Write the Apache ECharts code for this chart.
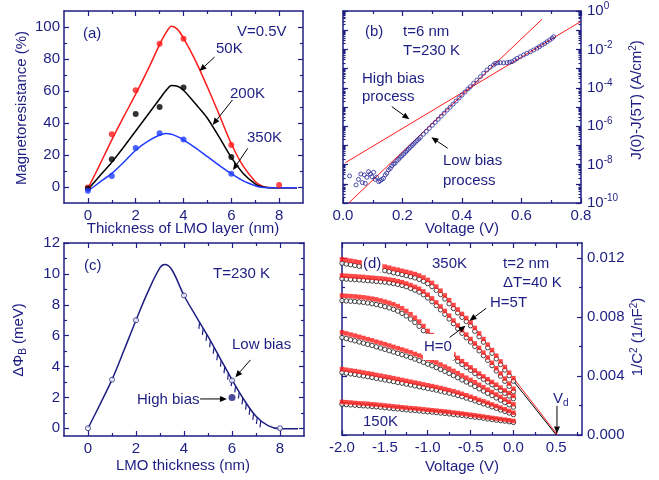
<!DOCTYPE html>
<html>
<head>
<meta charset="utf-8">
<script src="https://cdn.jsdelivr.net/npm/echarts@6/dist/echarts.min.js"></script>
<style>html,body{margin:0;padding:0;background:#fff}#c{width:659px;height:480px}</style>
</head>
<body>
<div id="c"></div>
<script>
// ---------- Panel (a): magnetoresistance vs LMO thickness ----------
const mrThickness = [0, 1, 2, 3, 4, 6, 8];
const mr50K  = [-0.3, 33, 60.5, 89.5, 92.7, 26.3, 1.2];
const mr200K = [-1, 17.4, 45.6, 50, 62.2, 18.7];
const mr350K = [-2.3, 6.8, 24.3, 33.6, 29.7, 8.3];
const fitThickness = [0, 0.5, 1, 1.5, 2, 2.5, 3, 3.25, 3.5, 3.75, 4, 4.5, 5, 5.5, 6, 6.5, 7, 7.25, 7.5, 8, 8.75];
const fit50K  = [-1, 14, 29.5, 44, 58, 73, 89, 96, 100.5, 98.5, 93, 79, 62.5, 45, 27, 13, 3.5, 0.8, -0.3, -0.5, -0.5];
const fit200K = [-1.5, 7, 15.5, 25, 35, 45, 55, 60, 63.5, 63, 60.5, 52, 43, 31, 18.5, 8.5, 2, 0.3, -0.3, -0.5, -0.5];
const fit350K = [-2.5, 3, 8.5, 15.5, 23, 28.5, 32.5, 33.5, 33, 31.5, 29.5, 24.5, 19, 13.5, 8.3, 3.8, 0.8, -0.2, -0.5, -0.5, -0.5];

// ---------- Panel (b): J(0)-J(5T) vs voltage (log10 values) ----------
const biasV = [0.022,0.044,0.052,0.060,0.065,0.072,0.075,0.080,0.086,0.092,0.097,0.103,0.108,0.113,0.120,0.125,0.130,0.136,0.142,0.147,0.153,0.159,0.164,0.170,0.175,0.181,0.187,0.193,0.198,0.204,0.210,0.215,0.220,0.226,0.232,0.237,0.243,0.249,0.255,0.260,0.270,0.280,0.290,0.300,0.310,0.320,0.330,0.340,0.350,0.360,0.370,0.380,0.390,0.400,0.410,0.420,0.428,0.439,0.450,0.462,0.473,0.484,0.495,0.506,0.512,0.520,0.529,0.540,0.551,0.560,0.568,0.577,0.585,0.596,0.607,0.618,0.630,0.641,0.652,0.660,0.669,0.678,0.686,0.695,0.703,0.708];
const log10DeltaJ = [-8.59,-9.06,-8.77,-8.49,-8.94,-8.54,-8.98,-8.66,-8.37,-8.49,-8.63,-8.40,-8.77,-8.66,-8.89,-8.84,-8.77,-8.72,-8.54,-8.45,-8.28,-8.20,-8.07,-7.98,-7.92,-7.80,-7.72,-7.62,-7.54,-7.45,-7.36,-7.27,-7.19,-7.10,-7.01,-6.93,-6.84,-6.75,-6.66,-6.58,-6.42,-6.27,-6.11,-5.95,-5.80,-5.64,-5.48,-5.32,-5.16,-5.01,-4.85,-4.69,-4.53,-4.38,-4.22,-4.06,-3.94,-3.77,-3.60,-3.42,-3.24,-3.07,-2.93,-2.81,-2.73,-2.70,-2.69,-2.70,-2.69,-2.67,-2.64,-2.56,-2.47,-2.38,-2.29,-2.21,-2.12,-2.03,-1.94,-1.86,-1.77,-1.69,-1.60,-1.51,-1.42,-1.34];
const lowBiasFit  = [[0.019, -10], [0.669, -0.43]];
const highBiasFit = [[0.008, -7.9], [0.798, -0.56]];

// ---------- Panel (c): barrier change vs LMO thickness ----------
const lmoThickness = [0, 1, 2, 4, 6, 8];
const dPhiLowBias  = [0, 3.15, 7.0, 8.6, 3.1, 0];
const dPhiHighBias = [[6, 2.0]];
const fitCX = [0, 0.5, 1, 1.5, 2, 2.5, 3, 3.2, 3.5, 4, 4.5, 5, 5.5, 6, 6.5, 7, 7.5, 8, 8.75];
const fitCY = [0, 1.55, 3.15, 5.05, 7.0, 8.85, 10.4, 10.6, 10.25, 8.6, 7.25, 5.95, 4.55, 3.15, 1.85, 0.78, 0.17, -0.03, -0.03];
const hatchX = [4.65, 4.8, 4.95, 5.1, 5.25, 5.4, 5.55, 5.7, 5.85, 6.0, 6.15, 6.3, 6.45, 6.6, 6.75, 6.9, 7.05, 7.2];
const hatchY = [6.86, 6.47, 6.08, 5.67, 5.25, 4.83, 4.41, 3.99, 3.57, 3.15, 2.75, 2.35, 1.97, 1.63, 1.3, 0.97, 0.7, 0.48];

// ---------- Panel (d): 1/C^2 (units of 1e-3 nF^-2) vs voltage ----------
const dVolt = [-2,-1.95,-1.9,-1.85,-1.8,-1.75,-1.7,-1.65,-1.6,-1.55,-1.5,-1.45,-1.4,-1.35,-1.3,-1.25,-1.2,-1.15,-1.1,-1.05,-1,-0.95,-0.9,-0.85,-0.8,-0.75,-0.7,-0.65,-0.6,-0.55,-0.5,-0.45,-0.4,-0.35,-0.3,-0.25,-0.2,-0.15,-0.1,-0.05,0];
const c1H5T = [11.90,11.85,11.80,11.75,11.70,11.65,11.60,11.55,11.50,11.45,11.40,11.33,11.25,11.19,11.12,11.05,10.98,10.90,10.80,10.67,10.50,10.30,10.05,9.77,9.45,9.13,8.80,8.50,8.20,7.92,7.62,7.25,6.88,6.50,6.12,5.75,5.37,4.98,4.60,4.22,3.85];
const c1H0  = [11.63,11.58,11.53,11.48,11.43,11.38,11.33,11.28,11.23,11.18,11.13,11.06,10.99,10.93,10.86,10.79,10.72,10.64,10.54,10.41,10.25,10.05,9.80,9.52,9.21,8.89,8.57,8.27,7.97,7.69,7.40,7.03,6.66,6.29,5.91,5.54,5.16,4.78,4.40,4.02,3.65];
const c2H5T = [10.80,10.78,10.76,10.74,10.72,10.70,10.67,10.65,10.62,10.60,10.57,10.53,10.48,10.42,10.35,10.26,10.15,10.03,9.90,9.72,9.50,9.25,8.98,8.70,8.40,8.08,7.75,7.42,7.10,6.80,6.50,6.20,5.90,5.58,5.25,4.89,4.52,4.17,3.82,3.48,3.13];
const c2H0  = [10.58,10.56,10.54,10.52,10.50,10.48,10.45,10.43,10.40,10.38,10.35,10.31,10.26,10.20,10.13,10.04,9.93,9.81,9.68,9.50,9.28,9.03,8.76,8.48,8.18,7.86,7.54,7.21,6.89,6.59,6.30,6.00,5.70,5.38,5.06,4.70,4.34,3.99,3.64,3.30,2.95];
const c3H5T = [9.44,9.42,9.40,9.38,9.35,9.32,9.28,9.23,9.18,9.11,9.03,8.95,8.85,8.73,8.58,8.40,8.18,7.94,7.68,7.38,7.05,6.77,6.50,6.23,5.97,5.70,5.45,5.22,5.00,4.79,4.58,4.37,4.16,3.97,3.78,3.59,3.40,3.21,3.02,2.84,2.65];
const c3H0  = [9.10,9.08,9.06,9.04,9.01,8.98,8.94,8.89,8.84,8.77,8.69,8.61,8.51,8.39,8.24,8.06,7.85,7.62,7.36,7.07,6.76,6.49,6.23,5.97,5.72,5.46,5.22,4.99,4.78,4.58,4.38,4.17,3.97,3.78,3.59,3.40,3.21,3.02,2.83,2.65,2.46];
const c4H5T = [6.95,6.88,6.80,6.73,6.65,6.57,6.49,6.41,6.32,6.24,6.15,6.06,5.97,5.88,5.79,5.70,5.60,5.49,5.38,5.27,5.15,5.03,4.91,4.77,4.63,4.49,4.34,4.19,4.03,3.88,3.73,3.57,3.40,3.24,3.07,2.91,2.74,2.58,2.41,2.25,2.08];
const c4H0  = [6.60,6.53,6.45,6.38,6.30,6.22,6.14,6.06,5.97,5.89,5.80,5.71,5.62,5.53,5.44,5.35,5.25,5.14,5.03,4.92,4.80,4.69,4.57,4.44,4.31,4.17,4.03,3.88,3.73,3.59,3.44,3.29,3.13,2.98,2.82,2.67,2.51,2.36,2.20,2.05,1.89];
const c5H5T = [4.46,4.42,4.37,4.33,4.28,4.23,4.18,4.13,4.07,4.02,3.96,3.91,3.85,3.79,3.73,3.67,3.61,3.55,3.49,3.43,3.37,3.31,3.25,3.18,3.11,3.04,2.96,2.88,2.79,2.69,2.59,2.49,2.38,2.28,2.18,2.07,1.96,1.85,1.74,1.63,1.51];
const c5H0  = [4.23,4.19,4.14,4.10,4.05,4.00,3.95,3.90,3.84,3.79,3.73,3.68,3.62,3.56,3.51,3.45,3.39,3.33,3.27,3.21,3.15,3.10,3.04,2.97,2.90,2.84,2.76,2.68,2.60,2.50,2.41,2.31,2.21,2.11,2.02,1.91,1.81,1.70,1.60,1.49,1.38];
const c6H5T = [2.24,2.22,2.20,2.17,2.15,2.13,2.11,2.08,2.06,2.03,2.00,1.97,1.94,1.91,1.88,1.85,1.82,1.80,1.77,1.74,1.71,1.68,1.65,1.62,1.59,1.56,1.52,1.49,1.45,1.41,1.37,1.33,1.29,1.25,1.20,1.16,1.12,1.08,1.04,1.00,0.95];
const c6H0  = [2.08,2.06,2.04,2.02,2.00,1.98,1.96,1.93,1.91,1.88,1.85,1.82,1.79,1.77,1.74,1.71,1.68,1.66,1.63,1.60,1.57,1.55,1.52,1.49,1.46,1.43,1.39,1.36,1.33,1.29,1.25,1.21,1.18,1.14,1.09,1.05,1.01,0.97,0.94,0.90,0.85];
const extrapH5T = [[0, 3.85], [0.515, 0]];
const extrapH0  = [[0, 3.65], [0.5, 0]];

// ---------- Tick values ----------
const ticksA = {xMaj:[0,2,4,6,8], xMin:[1,3,5,7], yMaj:[0,20,40,60,80,100], yMin:[10,30,50,70,90]};
const ticksB = {xMaj:[0,0.2,0.4,0.6,0.8], xMin:[0.1,0.3,0.5,0.7], yMaj:[-10,-9,-8,-7,-6,-5,-4,-3,-2,-1,0], yLab:[0,-2,-4,-6,-8,-10]};
const ticksC = {xMaj:[0,2,4,6,8], xMin:[1,3,5,7], yMaj:[0,2,4,6,8,10,12], yMin:[1,3,5,7,9,11]};
const ticksD = {xMaj:[-2,-1.5,-1,-0.5,0,0.5], xMin:[-1.75,-1.25,-0.75,-0.25,0.25,0.75], yMaj:[0,4,8,12], yMin:[2,6,10]};
const logMinor = [];
for (let n = -10; n < 0; n++) for (let k = 2; k <= 9; k++) logMinor.push(n + Math.log10(k));

// ---------- Styling ----------
const NAVY = '#1e1e82';
const FONT = '"Liberation Sans", Arial, sans-serif';
const zip = (xs, ys) => xs.map((x, i) => [x, ys[i]]);

function ax(grid, pos, min, max, ticks, len, line, labels, fmt, margin, rich) {
  return {
    type: 'value', gridIndex: grid, position: pos, min: min, max: max,
    axisLine: {show: line, onZero: false, lineStyle: {color: NAVY, width: 1.5}},
    axisTick: {show: true, inside: true, length: len, customValues: ticks, lineStyle: {color: NAVY, width: 1.2}},
    minorTick: {show: false},
    splitLine: {show: false},
    axisLabel: labels ? {show: true, customValues: labels, formatter: fmt, margin: margin,
      color: NAVY, fontSize: 15, fontFamily: FONT, rich: rich} : {show: false}
  };
}
const intFmt = v => String(Math.round(v));
const f1 = v => v.toFixed(1);
const f3 = v => (v / 1000).toFixed(3);
const logFmt = v => '{m|10}{e|' + Math.round(v) + '}';
const logRich = {m: {fontSize: 15, color: NAVY, fontFamily: FONT}, e: {fontSize: 10, color: NAVY, fontFamily: FONT, padding: [0, 0, 9, 0]}};

const grids = [
  {left: 64, top: 11, width: 239, height: 192},
  {left: 343, top: 11, width: 238, height: 192},
  {left: 64, top: 243, width: 240, height: 193},
  {left: 342, top: 243, width: 240, height: 192}
];

const xAxes = [
  ax(0,'bottom',-1,9,ticksA.xMaj,5,true,ticksA.xMaj,intFmt,5), ax(0,'bottom',-1,9,ticksA.xMin,3,false),
  ax(0,'top',-1,9,ticksA.xMaj,5,true), ax(0,'top',-1,9,ticksA.xMin,3,false),
  ax(1,'bottom',0,0.8,ticksB.xMaj,5,true,ticksB.xMaj,f1,5), ax(1,'bottom',0,0.8,ticksB.xMin,3,false),
  ax(1,'top',0,0.8,ticksB.xMaj,5,true), ax(1,'top',0,0.8,ticksB.xMin,3,false),
  ax(2,'bottom',-1,9,ticksC.xMaj,5,true,ticksC.xMaj,intFmt,5), ax(2,'bottom',-1,9,ticksC.xMin,3,false),
  ax(2,'top',-1,9,ticksC.xMaj,5,true), ax(2,'top',-1,9,ticksC.xMin,3,false),
  ax(3,'bottom',-2,0.8,ticksD.xMaj,5,true,ticksD.xMaj,f1,5), ax(3,'bottom',-2,0.8,ticksD.xMin,3,false),
  ax(3,'top',-2,0.8,ticksD.xMaj,5,true), ax(3,'top',-2,0.8,ticksD.xMin,3,false)
];
const yAxes = [
  ax(0,'left',-10,110,ticksA.yMaj,5,true,ticksA.yMaj,intFmt,4), ax(0,'left',-10,110,ticksA.yMin,3,false),
  ax(0,'right',-10,110,ticksA.yMaj,5,true), ax(0,'right',-10,110,ticksA.yMin,3,false),
  ax(1,'left',-10,0,ticksB.yMaj,5,true), ax(1,'left',-10,0,logMinor,2.5,false),
  ax(1,'right',-10,0,ticksB.yMaj,5,true,ticksB.yLab,logFmt,6,logRich), ax(1,'right',-10,0,logMinor,2.5,false),
  ax(2,'left',-0.5,12,ticksC.yMaj,5,true,ticksC.yMaj,intFmt,4), ax(2,'left',-0.5,12,ticksC.yMin,3,false),
  ax(2,'right',-0.5,12,ticksC.yMaj,5,true), ax(2,'right',-0.5,12,ticksC.yMin,3,false),
  ax(3,'left',0,13,ticksD.yMaj,5,true), ax(3,'left',0,13,ticksD.yMin,3,false),
  ax(3,'right',0,13,ticksD.yMaj,5,true,ticksD.yMaj,f3,5), ax(3,'right',0,13,ticksD.yMin,3,false)
];

// arrows (data coordinates: tail x, tail y, head x, head y)
const arrowsA = [[5.30, 81.2, 4.67, 72.5], [6.05, 54.4, 5.22, 38.8], [6.69, 24.2, 6.07, 10.6]];
const arrowsB = [[0.164, -4.98, 0.223, -5.64], [0.352, -7.15, 0.297, -6.58]];
const arrowsC = [[6.77, 4.43, 6.14, 3.31], [4.67, 1.9, 5.79, 1.9]];
const arrowsD = [[-0.318, 8.58, -0.512, 7.74], [-0.744, 6.61, -0.558, 7.40], [0.508, 1.97, 0.508, 0.1]];

function arrowRender(params, api) {
  const p1 = api.coord([api.value(0), api.value(1)]);
  const p2 = api.coord([api.value(2), api.value(3)]);
  const dx = p2[0] - p1[0], dy = p2[1] - p1[1];
  const L = Math.sqrt(dx * dx + dy * dy) || 1;
  const ux = dx / L, uy = dy / L, hl = 7, hw = 3;
  const bx = p2[0] - ux * hl, by = p2[1] - uy * hl;
  return {type: 'group', children: [
    {type: 'line', shape: {x1: p1[0], y1: p1[1], x2: bx, y2: by}, style: {stroke: '#000', lineWidth: 1}},
    {type: 'polygon', shape: {points: [[p2[0], p2[1]], [bx - uy * hw, by + ux * hw], [bx + uy * hw, by - ux * hw]]}, style: {fill: '#000'}}
  ]};
}
function arrowSeries(g, data) {
  return {type: 'custom', xAxisIndex: 4 * g, yAxisIndex: 4 * g, data: data, renderItem: arrowRender, z: 60, silent: true, clip: false};
}
function lineS(g, data, color, width, smooth) {
  return {type: 'line', xAxisIndex: 4 * g, yAxisIndex: 4 * g, data: data, showSymbol: false, symbol: 'none',
    smooth: smooth || false, lineStyle: {color: color, width: width}, z: 3};
}
function scat(g, data, symbol, size, fill, stroke, bw, z) {
  return {type: 'scatter', xAxisIndex: 4 * g, yAxisIndex: 4 * g, data: data, symbol: symbol, symbolSize: size,
    itemStyle: {color: fill, borderColor: stroke, borderWidth: bw}, z: z || 4};
}

const RED = '#ff1a1a', BLUE = '#1f3cff', DBLUE = '#26269a';
const series = [
  // (a)
  lineS(0, zip(fitThickness, fit50K), RED, 1.5, 0.3),
  lineS(0, zip(fitThickness, fit200K), '#000', 1.5, 0.3),
  lineS(0, zip(fitThickness, fit350K), BLUE, 1.5, 0.3),
  scat(0, zip(mrThickness, mr50K), 'circle', 6, RED, RED, 0),
  scat(0, zip(mrThickness, mr200K), 'circle', 6, '#000', '#000', 0),
  scat(0, zip(mrThickness, mr350K), 'circle', 6, BLUE, BLUE, 0),
  arrowSeries(0, arrowsA),
  // (b)
  scat(1, zip(biasV, log10DeltaJ), 'circle', 4, 'rgba(255,255,255,0)', DBLUE, 1),
  lineS(1, lowBiasFit, RED, 1),
  lineS(1, highBiasFit, RED, 1),
  arrowSeries(1, arrowsB),
  // (c)
  lineS(2, zip(fitCX, fitCY), NAVY, 1.5, 0.35),
  {type: 'custom', xAxisIndex: 8, yAxisIndex: 8, data: zip(hatchX, hatchY), z: 3, silent: true,
    renderItem: function (params, api) {
      const p = api.coord([api.value(0), api.value(1)]);
      return {type: 'line', shape: {x1: p[0], y1: p[1], x2: p[0] - 0.8, y2: p[1] + 6.5}, style: {stroke: NAVY, lineWidth: 1.2}};
    }},
  scat(2, zip(lmoThickness, dPhiLowBias), 'circle', 5, '#fff', NAVY, 1),
  scat(2, dPhiHighBias, 'circle', 7, NAVY, NAVY, 0),
  arrowSeries(2, arrowsC),
  // (d) H=0 open circles first, then H=5T red squares on top
  scat(3, zip(dVolt, c1H0), 'circle', 4.5, '#fff', '#000', 0.9),
  scat(3, zip(dVolt, c2H0), 'circle', 4.5, '#fff', '#000', 0.9),
  scat(3, zip(dVolt, c3H0), 'circle', 4.5, '#fff', '#000', 0.9),
  scat(3, zip(dVolt, c4H0), 'circle', 4.5, '#fff', '#000', 0.9),
  scat(3, zip(dVolt, c5H0), 'circle', 4.5, '#fff', '#000', 0.9),
  scat(3, zip(dVolt, c6H0), 'circle', 4.5, '#fff', '#000', 0.9),
  scat(3, zip(dVolt, c1H5T), 'rect', 4.5, RED, RED, 0, 5),
  scat(3, zip(dVolt, c2H5T), 'rect', 4.5, RED, RED, 0, 5),
  scat(3, zip(dVolt, c3H5T), 'rect', 4.5, RED, RED, 0, 5),
  scat(3, zip(dVolt, c4H5T), 'rect', 4.5, RED, RED, 0, 5),
  scat(3, zip(dVolt, c5H5T), 'rect', 4.5, RED, RED, 0, 5),
  scat(3, zip(dVolt, c6H5T), 'rect', 4.5, RED, RED, 0, 5),
  lineS(3, extrapH0, '#000', 1),
  lineS(3, extrapH5T, RED, 1),
  arrowSeries(3, arrowsD)
];

function txt(x, y, text, extra) {
  const style = Object.assign({text: text, fill: NAVY, fontSize: 15, fontFamily: FONT,
    align: 'left', verticalAlign: 'middle', textAlign: 'left', textVerticalAlign: 'middle'}, extra || {});
  return {type: 'text', x: x, y: y, z: 50, style: style};
}
function title(x, y, text, rotate, rich) {
  const el = txt(x, y, text, {align: 'center', textAlign: 'center', rich: rich});
  if (rotate) el.rotation = Math.PI / 2;
  return el;
}
const supRich = {sup: {fontSize: 10, fontFamily: FONT, fill: NAVY, padding: [0, 0, 8, 0]}};
const subRich = {sub: {fontSize: 10, fontFamily: FONT, fill: NAVY, padding: [8, 0, 0, 0]}};

const graphics = [
  title(22, 108, 'Magnetoresistance (%)', true),
  title(183, 229, 'Thickness of LMO layer (nm)'),
  title(462, 229, 'Voltage (V)'),
  title(637, 100, 'J(0)-J(5T) (A/cm{sup|2})', true, supRich),
  title(19, 340, 'ΔΦ{sub|B} (meV)', true, subRich),
  title(183, 466, 'LMO thickness (nm)'),
  title(462, 467, 'Voltage (V)'),
  title(638, 337, '1/C{sup|2} (1/nF{sup|2})', true, supRich),
  // (a)
  txt(83, 34, '(a)'), txt(237, 32, 'V=0.5V'), txt(216, 49, '50K'), txt(230, 94, '200K'), txt(247, 138, '350K'),
  // (b)
  txt(365, 32, '(b)'), txt(403, 32, 't=6 nm'), txt(403, 51, 'T=230 K'),
  txt(362, 79, 'High bias'), txt(362, 97, 'process'), txt(443, 161, 'Low bias'), txt(443, 181, 'process'),
  // (c)
  txt(84, 266, '(c)'), txt(213, 274, 'T=230 K'), txt(232, 345, 'Low bias'), txt(137, 400, 'High bias'),
  // (d)
  txt(362, 264, '(d)', {backgroundColor: '#fff', padding: [1, 1, 1, 1]}),
  txt(432, 264, '350K'), txt(503, 264, 't=2 nm'), txt(503, 283, 'ΔT=40 K'), txt(490, 303, 'H=5T'),
  txt(423, 347, 'H=0', {backgroundColor: '#fff', padding: [11, 2, 0, 1]}),
  txt(363, 422, '150K'),
  txt(553, 399, '{v|V}{sub|d}', {rich: {v: {fontSize: 15, fontFamily: FONT, fill: NAVY}, sub: {fontSize: 10, fontFamily: FONT, fill: NAVY, padding: [8, 0, 0, 0]}}})
];

const chart = echarts.init(document.getElementById('c'), null, {renderer: 'canvas'});
chart.setOption({
  animation: false,
  backgroundColor: '#fff',
  grid: grids,
  xAxis: xAxes,
  yAxis: yAxes,
  series: series,
  graphic: graphics
});
</script>
</body>
</html>
